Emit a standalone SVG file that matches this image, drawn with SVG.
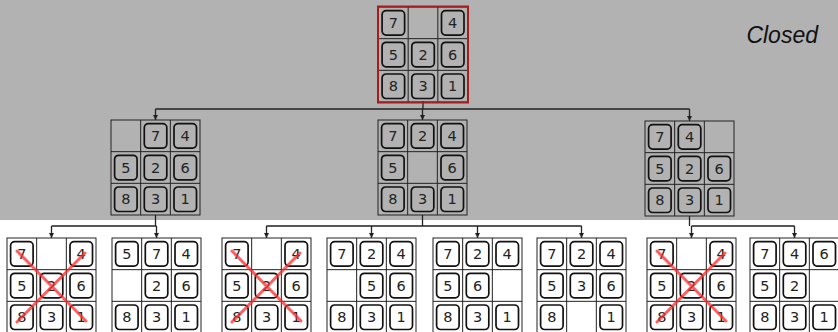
<svg xmlns="http://www.w3.org/2000/svg" width="838" height="332" viewBox="0 0 838 332">
<style>
.bg{fill:#b2b2b2}
.grid{fill:none;stroke:#222;stroke-width:1}
.tile{stroke:#111;stroke-width:1.7}
.closed .tile{fill:#b2b2b2}
.open .tile{fill:#fff}
.open .gu{fill:#fff}
.closed .gu{fill:none}
.num{font-family:"DejaVu Sans",sans-serif;font-size:14.5px;fill:#222;text-anchor:middle}
.conn{fill:none;stroke:#222;stroke-width:1.3}
.cross{stroke:#ff2a2a;stroke-opacity:0.75;stroke-width:3;stroke-linecap:round}
.label{font-family:"Liberation Sans",Arial,sans-serif;font-style:italic;font-size:23px;fill:#111;text-anchor:end}
</style>
<defs>
<g id="grid"><rect x="0" y="0" width="89" height="95"/><rect class="grid" x="0" y="0" width="89" height="95"/><path class="grid" d="M29.67 0V95M59.33 0V95M0 31.67H89M0 63.33H89"/></g>
<rect id="tile" width="22.5" height="24.5" rx="4" ry="4"/>
<marker id="arr" viewBox="0 0 10 10" refX="10" refY="5" markerWidth="5" markerHeight="6" orient="auto" markerUnits="userSpaceOnUse"><path d="M0 0L10 5L0 10z" fill="#222"/></marker>
</defs>
<rect class="bg" x="0" y="0" width="838" height="220"/>
<text class="label" x="818" y="43">Closed</text>

<g id="connectors">
<path class="conn" d="M423 101V109M155.5 109H689.5"/>
<path class="conn" marker-end="url(#arr)" d="M155.5 109V120"/>
<path class="conn" marker-end="url(#arr)" d="M422.5 109V120"/>
<path class="conn" marker-end="url(#arr)" d="M689.5 109V121"/>
<path class="conn" d="M155.5 215V226M51.5 226H156.5"/>
<path class="conn" marker-end="url(#arr)" d="M51.5 226V238"/>
<path class="conn" marker-end="url(#arr)" d="M156.5 226V238"/>
<path class="conn" d="M422.5 215V226M266.5 226H581.5"/>
<path class="conn" marker-end="url(#arr)" d="M266.5 226V238"/>
<path class="conn" marker-end="url(#arr)" d="M371.5 226V238"/>
<path class="conn" marker-end="url(#arr)" d="M477.5 226V238"/>
<path class="conn" marker-end="url(#arr)" d="M581.5 226V238"/>
<path class="conn" d="M689.5 216V226M691.5 226H794.5"/>
<path class="conn" marker-end="url(#arr)" d="M691.5 226V238"/>
<path class="conn" marker-end="url(#arr)" d="M794.5 226V238"/>
</g>

<g id="root" class="closed" transform="translate(378.5,7)">
<use href="#grid" class="gu"/>
<use href="#tile" class="tile" x="3.6" y="3.6"/><use href="#tile" class="tile" x="63" y="3.6"/>
<use href="#tile" class="tile" x="3.6" y="35.3"/><use href="#tile" class="tile" x="33.3" y="35.3"/><use href="#tile" class="tile" x="63" y="35.3"/>
<use href="#tile" class="tile" x="3.6" y="67"/><use href="#tile" class="tile" x="33.3" y="67"/><use href="#tile" class="tile" x="63" y="67"/>
<text class="num" x="14.8" y="21">7</text><text class="num" x="74.2" y="21">4</text>
<text class="num" x="14.8" y="52.7">5</text><text class="num" x="44.5" y="52.7">2</text><text class="num" x="74.2" y="52.7">6</text>
<text class="num" x="14.8" y="84.4">8</text><text class="num" x="44.5" y="84.4">3</text><text class="num" x="74.2" y="84.4">1</text>
<rect x="-0.5" y="-0.5" width="90" height="96" fill="none" stroke="#a81c1c" stroke-width="2"/>
</g>

<g id="nodeA" class="closed" transform="translate(111,120)">
<use href="#grid" class="gu"/>
<use href="#tile" class="tile" x="33.3" y="3.6"/><use href="#tile" class="tile" x="63" y="3.6"/>
<use href="#tile" class="tile" x="3.6" y="35.3"/><use href="#tile" class="tile" x="33.3" y="35.3"/><use href="#tile" class="tile" x="63" y="35.3"/>
<use href="#tile" class="tile" x="3.6" y="67"/><use href="#tile" class="tile" x="33.3" y="67"/><use href="#tile" class="tile" x="63" y="67"/>
<text class="num" x="44.5" y="21">7</text><text class="num" x="74.2" y="21">4</text>
<text class="num" x="14.8" y="52.7">5</text><text class="num" x="44.5" y="52.7">2</text><text class="num" x="74.2" y="52.7">6</text>
<text class="num" x="14.8" y="84.4">8</text><text class="num" x="44.5" y="84.4">3</text><text class="num" x="74.2" y="84.4">1</text>
</g>

<g id="nodeB" class="closed" transform="translate(378,120)">
<use href="#grid" class="gu"/>
<use href="#tile" class="tile" x="3.6" y="3.6"/><use href="#tile" class="tile" x="33.3" y="3.6"/><use href="#tile" class="tile" x="63" y="3.6"/>
<use href="#tile" class="tile" x="3.6" y="35.3"/><use href="#tile" class="tile" x="63" y="35.3"/>
<use href="#tile" class="tile" x="3.6" y="67"/><use href="#tile" class="tile" x="33.3" y="67"/><use href="#tile" class="tile" x="63" y="67"/>
<text class="num" x="14.8" y="21">7</text><text class="num" x="44.5" y="21">2</text><text class="num" x="74.2" y="21">4</text>
<text class="num" x="14.8" y="52.7">5</text><text class="num" x="74.2" y="52.7">6</text>
<text class="num" x="14.8" y="84.4">8</text><text class="num" x="44.5" y="84.4">3</text><text class="num" x="74.2" y="84.4">1</text>
</g>

<g id="nodeC" class="closed" transform="translate(645,121)">
<use href="#grid" class="gu"/>
<use href="#tile" class="tile" x="3.6" y="3.6"/><use href="#tile" class="tile" x="33.3" y="3.6"/>
<use href="#tile" class="tile" x="3.6" y="35.3"/><use href="#tile" class="tile" x="33.3" y="35.3"/><use href="#tile" class="tile" x="63" y="35.3"/>
<use href="#tile" class="tile" x="3.6" y="67"/><use href="#tile" class="tile" x="33.3" y="67"/><use href="#tile" class="tile" x="63" y="67"/>
<text class="num" x="14.8" y="21">7</text><text class="num" x="44.5" y="21">4</text>
<text class="num" x="14.8" y="52.7">5</text><text class="num" x="44.5" y="52.7">2</text><text class="num" x="74.2" y="52.7">6</text>
<text class="num" x="14.8" y="84.4">8</text><text class="num" x="44.5" y="84.4">3</text><text class="num" x="74.2" y="84.4">1</text>
</g>

<g id="leaf1" class="open" transform="translate(7,238)">
<use href="#grid" class="gu"/>
<use href="#tile" class="tile" x="3.6" y="3.6"/><use href="#tile" class="tile" x="63" y="3.6"/>
<use href="#tile" class="tile" x="3.6" y="35.3"/><use href="#tile" class="tile" x="33.3" y="35.3"/><use href="#tile" class="tile" x="63" y="35.3"/>
<use href="#tile" class="tile" x="3.6" y="67"/><use href="#tile" class="tile" x="33.3" y="67"/><use href="#tile" class="tile" x="63" y="67"/>
<text class="num" x="14.8" y="21">7</text><text class="num" x="74.2" y="21">4</text>
<text class="num" x="14.8" y="52.7">5</text><text class="num" x="44.5" y="52.7">2</text><text class="num" x="74.2" y="52.7">6</text>
<text class="num" x="14.8" y="84.4">8</text><text class="num" x="44.5" y="84.4">3</text><text class="num" x="74.2" y="84.4">1</text>
<path class="cross" d="M10 13L79 83M78 15L10 84"/>
</g>

<g id="leaf2" class="open" transform="translate(112,238)">
<use href="#grid" class="gu"/>
<use href="#tile" class="tile" x="3.6" y="3.6"/><use href="#tile" class="tile" x="33.3" y="3.6"/><use href="#tile" class="tile" x="63" y="3.6"/>
<use href="#tile" class="tile" x="33.3" y="35.3"/><use href="#tile" class="tile" x="63" y="35.3"/>
<use href="#tile" class="tile" x="3.6" y="67"/><use href="#tile" class="tile" x="33.3" y="67"/><use href="#tile" class="tile" x="63" y="67"/>
<text class="num" x="14.8" y="21">5</text><text class="num" x="44.5" y="21">7</text><text class="num" x="74.2" y="21">4</text>
<text class="num" x="44.5" y="52.7">2</text><text class="num" x="74.2" y="52.7">6</text>
<text class="num" x="14.8" y="84.4">8</text><text class="num" x="44.5" y="84.4">3</text><text class="num" x="74.2" y="84.4">1</text>
</g>

<g id="leaf3" class="open" transform="translate(222,238)">
<use href="#grid" class="gu"/>
<use href="#tile" class="tile" x="3.6" y="3.6"/><use href="#tile" class="tile" x="63" y="3.6"/>
<use href="#tile" class="tile" x="3.6" y="35.3"/><use href="#tile" class="tile" x="33.3" y="35.3"/><use href="#tile" class="tile" x="63" y="35.3"/>
<use href="#tile" class="tile" x="3.6" y="67"/><use href="#tile" class="tile" x="33.3" y="67"/><use href="#tile" class="tile" x="63" y="67"/>
<text class="num" x="14.8" y="21">7</text><text class="num" x="74.2" y="21">4</text>
<text class="num" x="14.8" y="52.7">5</text><text class="num" x="44.5" y="52.7">2</text><text class="num" x="74.2" y="52.7">6</text>
<text class="num" x="14.8" y="84.4">8</text><text class="num" x="44.5" y="84.4">3</text><text class="num" x="74.2" y="84.4">1</text>
<path class="cross" d="M10 13L79 83M78 15L10 84"/>
</g>

<g id="leaf4" class="open" transform="translate(327,238)">
<use href="#grid" class="gu"/>
<use href="#tile" class="tile" x="3.6" y="3.6"/><use href="#tile" class="tile" x="33.3" y="3.6"/><use href="#tile" class="tile" x="63" y="3.6"/>
<use href="#tile" class="tile" x="33.3" y="35.3"/><use href="#tile" class="tile" x="63" y="35.3"/>
<use href="#tile" class="tile" x="3.6" y="67"/><use href="#tile" class="tile" x="33.3" y="67"/><use href="#tile" class="tile" x="63" y="67"/>
<text class="num" x="14.8" y="21">7</text><text class="num" x="44.5" y="21">2</text><text class="num" x="74.2" y="21">4</text>
<text class="num" x="44.5" y="52.7">5</text><text class="num" x="74.2" y="52.7">6</text>
<text class="num" x="14.8" y="84.4">8</text><text class="num" x="44.5" y="84.4">3</text><text class="num" x="74.2" y="84.4">1</text>
</g>

<g id="leaf5" class="open" transform="translate(433,238)">
<use href="#grid" class="gu"/>
<use href="#tile" class="tile" x="3.6" y="3.6"/><use href="#tile" class="tile" x="33.3" y="3.6"/><use href="#tile" class="tile" x="63" y="3.6"/>
<use href="#tile" class="tile" x="3.6" y="35.3"/><use href="#tile" class="tile" x="33.3" y="35.3"/>
<use href="#tile" class="tile" x="3.6" y="67"/><use href="#tile" class="tile" x="33.3" y="67"/><use href="#tile" class="tile" x="63" y="67"/>
<text class="num" x="14.8" y="21">7</text><text class="num" x="44.5" y="21">2</text><text class="num" x="74.2" y="21">4</text>
<text class="num" x="14.8" y="52.7">5</text><text class="num" x="44.5" y="52.7">6</text>
<text class="num" x="14.8" y="84.4">8</text><text class="num" x="44.5" y="84.4">3</text><text class="num" x="74.2" y="84.4">1</text>
</g>

<g id="leaf6" class="open" transform="translate(537,238)">
<use href="#grid" class="gu"/>
<use href="#tile" class="tile" x="3.6" y="3.6"/><use href="#tile" class="tile" x="33.3" y="3.6"/><use href="#tile" class="tile" x="63" y="3.6"/>
<use href="#tile" class="tile" x="3.6" y="35.3"/><use href="#tile" class="tile" x="33.3" y="35.3"/><use href="#tile" class="tile" x="63" y="35.3"/>
<use href="#tile" class="tile" x="3.6" y="67"/><use href="#tile" class="tile" x="63" y="67"/>
<text class="num" x="14.8" y="21">7</text><text class="num" x="44.5" y="21">2</text><text class="num" x="74.2" y="21">4</text>
<text class="num" x="14.8" y="52.7">5</text><text class="num" x="44.5" y="52.7">3</text><text class="num" x="74.2" y="52.7">6</text>
<text class="num" x="14.8" y="84.4">8</text><text class="num" x="74.2" y="84.4">1</text>
</g>

<g id="leaf7" class="open" transform="translate(647,238)">
<use href="#grid" class="gu"/>
<use href="#tile" class="tile" x="3.6" y="3.6"/><use href="#tile" class="tile" x="63" y="3.6"/>
<use href="#tile" class="tile" x="3.6" y="35.3"/><use href="#tile" class="tile" x="33.3" y="35.3"/><use href="#tile" class="tile" x="63" y="35.3"/>
<use href="#tile" class="tile" x="3.6" y="67"/><use href="#tile" class="tile" x="33.3" y="67"/><use href="#tile" class="tile" x="63" y="67"/>
<text class="num" x="14.8" y="21">7</text><text class="num" x="74.2" y="21">4</text>
<text class="num" x="14.8" y="52.7">5</text><text class="num" x="44.5" y="52.7">2</text><text class="num" x="74.2" y="52.7">6</text>
<text class="num" x="14.8" y="84.4">8</text><text class="num" x="44.5" y="84.4">3</text><text class="num" x="74.2" y="84.4">1</text>
<path class="cross" d="M10 13L79 83M78 15L10 84"/>
</g>

<g id="leaf8" class="open" transform="translate(750,238)">
<use href="#grid" class="gu"/>
<use href="#tile" class="tile" x="3.6" y="3.6"/><use href="#tile" class="tile" x="33.3" y="3.6"/><use href="#tile" class="tile" x="63" y="3.6"/>
<use href="#tile" class="tile" x="3.6" y="35.3"/><use href="#tile" class="tile" x="33.3" y="35.3"/>
<use href="#tile" class="tile" x="3.6" y="67"/><use href="#tile" class="tile" x="33.3" y="67"/><use href="#tile" class="tile" x="63" y="67"/>
<text class="num" x="14.8" y="21">7</text><text class="num" x="44.5" y="21">4</text><text class="num" x="74.2" y="21">6</text>
<text class="num" x="14.8" y="52.7">5</text><text class="num" x="44.5" y="52.7">2</text>
<text class="num" x="14.8" y="84.4">8</text><text class="num" x="44.5" y="84.4">3</text><text class="num" x="74.2" y="84.4">1</text>
</g>
</svg>
